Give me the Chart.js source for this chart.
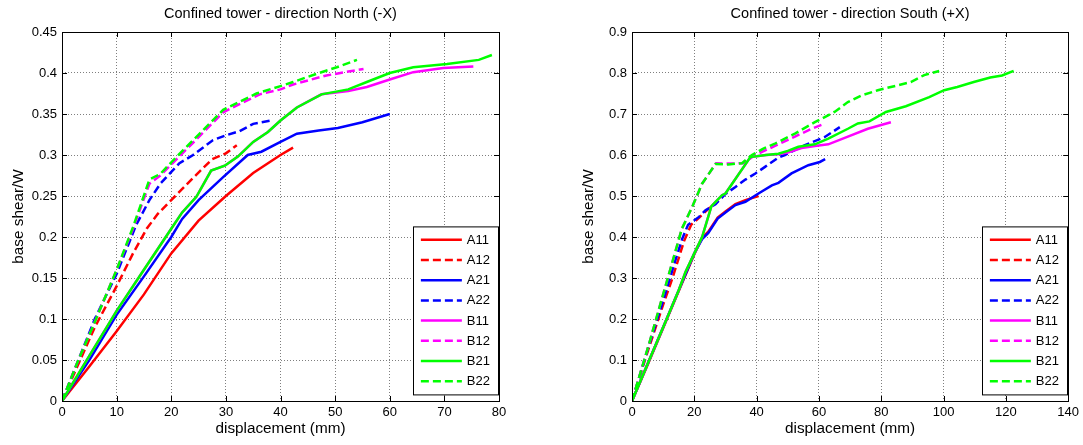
<!DOCTYPE html>
<html>
<head>
<meta charset="utf-8">
<script src="https://cdn.jsdelivr.net/npm/chart.js@4.4.0/dist/chart.umd.min.js"></script>
<style>
body{margin:0;background:#fff;width:1083px;height:445px;overflow:hidden;position:relative;}
.box{position:absolute;top:0;height:445px;}
</style>
</head>
<body>
<div class="box" style="left:0;width:540px"><canvas id="north"></canvas></div>
<div class="box" style="left:570px;width:513px"><canvas id="south"></canvas></div>
<script>
const seriesNames = ["A11","A12","A21","A22","B11","B12","B21","B22"];

// direction North (-X): [displacement mm, base shear/W]
const nA11 = [[0,0],[5,0.042],[10,0.085],[15,0.13],[20,0.18],[25,0.22],[30,0.25],[35,0.278],[40,0.3],[42.3,0.309]];
const nA12 = [[0,0],[3,0.045],[6,0.09],[10,0.14],[13,0.18],[15.5,0.21],[17.5,0.228],[20,0.245],[24,0.272],[27.5,0.295],[30,0.302],[32,0.312]];
const nA21 = [[0,0],[5,0.05],[10,0.105],[15,0.152],[20,0.2],[22,0.222],[25,0.245],[29.5,0.273],[34,0.3],[36.5,0.304],[40,0.316],[43,0.326],[47,0.33],[50.5,0.333],[55,0.34],[60,0.35]];
const nA22 = [[0,0],[3,0.05],[6,0.1],[10,0.155],[13.6,0.215],[16,0.245],[18,0.265],[21.5,0.29],[24,0.3],[27.6,0.318],[30,0.324],[32.5,0.329],[35,0.338],[38.3,0.342]];
const nB11 = [[0,0],[5,0.055],[10,0.11],[15,0.16],[20,0.21],[22,0.23],[24.6,0.249],[27.3,0.281],[29.8,0.287],[32.2,0.298],[35,0.316],[37.7,0.328],[40,0.342],[43,0.358],[47.5,0.374],[52.4,0.378],[55.8,0.383],[60,0.392],[64.3,0.401],[69.8,0.406],[75.3,0.408]];
const nB12 = [[0,0],[3,0.05],[5.6,0.09],[10,0.16],[13,0.21],[16,0.265],[18,0.275],[21,0.295],[25.2,0.323],[29.5,0.352],[32.5,0.362],[36.2,0.374],[40,0.38],[42.3,0.386],[48.4,0.397],[55.2,0.405]];
const nB21 = [[0,0],[5,0.055],[10,0.11],[15,0.16],[20,0.21],[22,0.23],[24.6,0.249],[27.3,0.281],[29.8,0.287],[32.2,0.298],[35,0.316],[37.7,0.328],[40,0.342],[43,0.358],[47.5,0.374],[52.4,0.38],[55.8,0.389],[60,0.4],[64.3,0.407],[70.5,0.411],[76.3,0.416],[78.7,0.422]];
const nB22 = [[0,0],[3,0.05],[5.6,0.09],[10,0.16],[13,0.212],[16,0.27],[18,0.277],[21,0.298],[25.2,0.326],[29.5,0.355],[32.5,0.365],[35.6,0.375],[40,0.384],[42.3,0.389],[46.6,0.399],[50.3,0.407],[54,0.416]];

// direction South (+X)
const sA11 = [[0,0],[5,0.088],[10,0.178],[15,0.268],[20,0.358],[22.5,0.398],[24.5,0.413],[27.5,0.447],[30,0.462],[33.2,0.48],[36.4,0.49],[40.6,0.5]];
const sA12 = [[0,0],[5,0.12],[10,0.235],[13,0.3],[16.7,0.39],[19,0.43],[21.5,0.447],[24,0.465],[27,0.485]];
const sA21 = [[0,0],[5,0.09],[10,0.18],[15,0.27],[20,0.36],[22.5,0.395],[24.5,0.41],[27.5,0.445],[30,0.46],[33.2,0.478],[36.4,0.486],[40.6,0.506],[44.9,0.526],[47,0.532],[51.2,0.555],[56.6,0.575],[60.3,0.583],[62,0.59]];
const sA22 = [[0,0],[5,0.125],[10,0.245],[14,0.345],[16.1,0.395],[18,0.43],[21.5,0.449],[23.6,0.465],[26.8,0.48],[30,0.505],[33.2,0.522],[36.4,0.54],[39.6,0.555],[42.7,0.571],[47,0.594],[49.1,0.6],[55.5,0.624],[61.9,0.644],[66.7,0.668]];
const sB11 = [[0,0],[5,0.09],[10,0.18],[15,0.27],[17.2,0.315],[20,0.36],[22.5,0.4],[25.5,0.475],[28.9,0.502],[30,0.506],[38,0.595],[43,0.6],[47,0.602],[50,0.606],[54.4,0.617],[58.7,0.622],[63,0.626],[69.3,0.645],[75.7,0.664],[83.1,0.68]];
const sB12 = [[0,0],[5.5,0.14],[10,0.26],[13,0.34],[16,0.42],[19.3,0.473],[22.5,0.53],[27,0.58],[31,0.579],[35.8,0.58],[39.5,0.6],[45.9,0.622],[52.3,0.645],[58,0.665],[62,0.677]];
const sB21 = [[0,0],[5,0.09],[10,0.18],[15,0.27],[17.2,0.315],[20,0.36],[22.5,0.4],[25.5,0.475],[28.9,0.502],[30,0.506],[38,0.595],[43,0.6],[47,0.603],[50,0.61],[53.4,0.62],[58.7,0.626],[63,0.64],[69.3,0.664],[72.5,0.677],[76.2,0.682],[81.5,0.705],[87.9,0.719],[95.4,0.741],[100.2,0.758],[104.4,0.766],[109.7,0.778],[115,0.789],[118.8,0.794],[122.5,0.805]];
const sB22 = [[0,0],[5.5,0.14],[10,0.26],[13,0.34],[16,0.42],[19.3,0.473],[22.5,0.53],[26.8,0.578],[31,0.577],[35.3,0.58],[38.5,0.6],[42,0.615],[45.9,0.628],[52.3,0.652],[58.7,0.68],[65,0.705],[69.3,0.729],[73.6,0.745],[78.9,0.758],[85.3,0.77],[89.5,0.778],[93.8,0.795],[98.6,0.805]];

const lineColors = ['#ff0000','#ff0000','#0000ff','#0000ff','#ff00ff','#ff00ff','#00ff00','#00ff00'];
const isDashed = [false,true,false,true,false,true,false,true];
const FONT = '"Liberation Sans", Arial, Helvetica, sans-serif';

// MATLAB-like box with inward ticks, and the legend in the lower right corner
const matlabFrame = {
    id: 'matlabFrame',
    afterDatasetsDraw(chart) {
        const {ctx, chartArea: a, scales} = chart;
        ctx.save();
        ctx.strokeStyle = '#000';
        ctx.lineWidth = 1;
        ctx.setLineDash([]);
        ctx.beginPath();
        scales.x.ticks.forEach(t => {
            const px = Math.round(scales.x.getPixelForValue(t.value)) + 0.5;
            ctx.moveTo(px, a.bottom); ctx.lineTo(px, a.bottom - 5);
            ctx.moveTo(px, a.top); ctx.lineTo(px, a.top + 5);
        });
        scales.y.ticks.forEach(t => {
            const py = Math.round(scales.y.getPixelForValue(t.value)) + 0.5;
            ctx.moveTo(a.left, py); ctx.lineTo(a.left + 5, py);
            ctx.moveTo(a.right, py); ctx.lineTo(a.right - 5, py);
        });
        ctx.stroke();
        ctx.strokeRect(Math.round(a.left) + 0.5, Math.round(a.top) + 0.5, Math.round(a.right - a.left), Math.round(a.bottom - a.top));

        // legend, listed in dataset index order
        const sets = chart.data.datasets;
        ctx.font = '13px ' + FONT;
        let tw = 0;
        sets.forEach(d => { tw = Math.max(tw, ctx.measureText(d.label).width); });
        const rowH = 20.2, sample = 41;
        const w = 8 + sample + 5 + tw + 8;
        const h = rowH * sets.length + 6;
        const right = Math.round(a.right) - 1, bottom = Math.round(a.bottom) - 7;
        const left = right - w, top = bottom - h;
        ctx.fillStyle = '#fff';
        ctx.fillRect(left, top, w, h);
        ctx.lineWidth = 1;
        ctx.strokeRect(Math.round(left) + 0.5, top + 0.5, Math.round(w), Math.round(h));
        ctx.textBaseline = 'middle';
        ctx.textAlign = 'left';
        sets.forEach((d, i) => {
            const y = top + 13.4 + i * rowH;
            ctx.strokeStyle = d.borderColor;
            ctx.lineWidth = 2.5;
            ctx.setLineDash(d.borderDash);
            ctx.beginPath();
            ctx.moveTo(left + 8, y); ctx.lineTo(left + 8 + sample, y);
            ctx.stroke();
            ctx.setLineDash([]);
            ctx.fillStyle = '#000';
            ctx.fillText(d.label, left + 8 + sample + 5, y + 0.5);
        });
        ctx.restore();
    }
};

function RenderChart(elementId, titleText, series, xMax, xStep, yMax, yStep, rightPad)
{
    let ctx = document.getElementById(elementId).getContext('2d');
    return new Chart(ctx, {
        type: 'scatter',
        data: {
            datasets: series.map((pts, i) => ({
                label: seriesNames[i],
                data: pts.map(p => ({x: p[0], y: p[1]})),
                order: series.length - i,   // later series drawn on top, like MATLAB
                showLine: true,
                borderColor: lineColors[i],
                backgroundColor: lineColors[i],
                borderDash: isDashed[i] ? [8, 4] : [],
                borderWidth: 2.5,
                pointRadius: 0,
                tension: 0,
                fill: false
            }))
        },
        options: {
            responsive: true,
            maintainAspectRatio: false,
            animation: false,
            layout: {padding: {left: 0, right: rightPad, top: 0, bottom: 0}},
            plugins: {
                legend: {display: false},
                tooltip: {enabled: false},
                title: {
                    display: true,
                    text: titleText,
                    fullSize: false,
                    color: '#000',
                    font: {family: FONT, size: 14.5, weight: 'normal', lineHeight: 1.2},
                    padding: {top: 5, bottom: 9.6}
                }
            },
            scales: {
                x: {
                    type: 'linear',
                    min: 0, max: xMax,
                    afterFit: s => { s.height = 44; },
                    ticks: {stepSize: xStep, color: '#000', padding: 4, maxRotation: 0, font: {family: FONT, size: 13}},
                    grid: {color: 'rgba(0,0,0,0.5)', drawTicks: false, lineWidth: 1},
                    border: {display: false, dash: [1, 2]},
                    title: {display: true, text: 'displacement (mm)', color: '#000', font: {family: FONT, size: 15.3}, padding: {top: 0, bottom: 7}}
                },
                y: {
                    type: 'linear',
                    min: 0, max: yMax,
                    afterFit: s => { s.width = 62; },
                    ticks: {stepSize: yStep, color: '#000', padding: 5, font: {family: FONT, size: 13},
                        callback: v => String(+v.toFixed(2))},
                    grid: {color: 'rgba(0,0,0,0.5)', drawTicks: false, lineWidth: 1},
                    border: {display: false, dash: [1, 2]},
                    title: {display: true, text: 'base shear/W', color: '#000', font: {family: FONT, size: 15.3}, padding: {top: 10, bottom: 0}}
                }
            }
        },
        plugins: [matlabFrame]
    });
}

RenderChart('north', 'Confined tower - direction North (-X)', [nA11, nA12, nA21, nA22, nB11, nB12, nB21, nB22], 80, 10, 0.45, 0.05, 41);
RenderChart('south', 'Confined tower - direction South (+X)', [sA11, sA12, sA21, sA22, sB11, sB12, sB21, sB22], 140, 20, 0.9, 0.1, 11);
</script>
</body>
</html>
